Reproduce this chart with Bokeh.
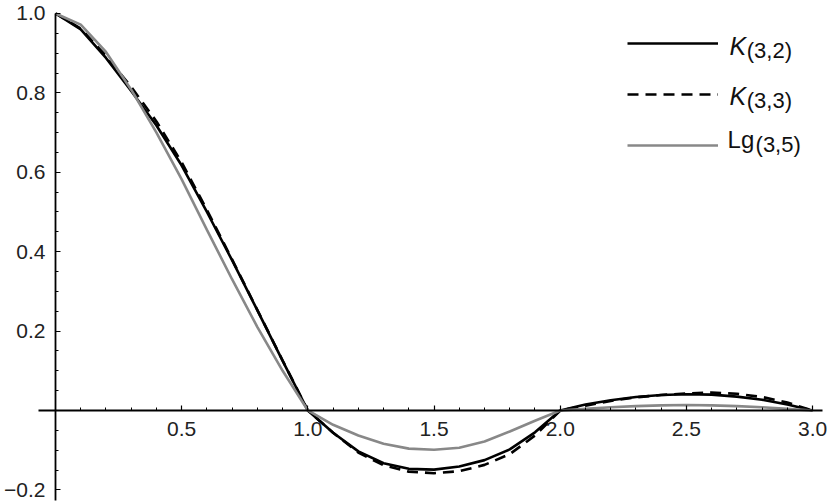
from bokeh.plotting import figure
from bokeh.models import FixedTicker, Range1d, Legend, LegendItem, Label
from bokeh.embed import file_html
from bokeh.resources import INLINE

# ---- data ----
x_vals = [0.0, 0.1, 0.2, 0.3, 0.4, 0.5, 0.6, 0.7, 0.8, 0.9,
          1.0, 1.1, 1.2, 1.3, 1.4, 1.5, 1.6, 1.7, 1.8, 1.9,
          2.0, 2.1, 2.2, 2.3, 2.4, 2.5, 2.6, 2.7, 2.8, 2.9, 3.0]

k32 = [1.000, 0.960, 0.888, 0.805, 0.718, 0.617, 0.500, 0.378, 0.252, 0.125,
       0.000, -0.056, -0.103, -0.133, -0.147, -0.149, -0.141, -0.125, -0.098, -0.055,
       0.000, 0.015, 0.026, 0.034, 0.039, 0.041, 0.040, 0.035, 0.027, 0.015, 0.000]

k33 = [1.000, 0.962, 0.893, 0.815, 0.728, 0.625, 0.505, 0.380, 0.253, 0.126,
       0.000, -0.056, -0.106, -0.138, -0.154, -0.158, -0.153, -0.137, -0.110, -0.063,
       0.000, 0.012, 0.024, 0.033, 0.039, 0.043, 0.045, 0.042, 0.034, 0.020, 0.000]

lg35 = [1.000, 0.972, 0.903, 0.808, 0.700, 0.582, 0.455, 0.330, 0.210, 0.100,
        0.000, -0.036, -0.063, -0.084, -0.096, -0.099, -0.094, -0.078, -0.053, -0.026,
        0.000, 0.004, 0.008, 0.011, 0.013, 0.014, 0.013, 0.011, 0.008, 0.004, 0.000]

x_ticks = [0.5, 1.0, 1.5, 2.0, 2.5, 3.0]
x_tick_labels = ["0.5", "1.0", "1.5", "2.0", "2.5", "3.0"]
x_minor = [0.1, 0.2, 0.3, 0.4, 0.6, 0.7, 0.8, 0.9, 1.1, 1.2, 1.3, 1.4,
           1.6, 1.7, 1.8, 1.9, 2.1, 2.2, 2.3, 2.4, 2.6, 2.7, 2.8, 2.9]

y_ticks = [-0.2, 0.2, 0.4, 0.6, 0.8, 1.0]
y_tick_labels = ["\u22120.2", "0.2", "0.4", "0.6", "0.8", "1.0"]
y_minor = [-0.15, -0.1, -0.05, 0.05, 0.1, 0.15, 0.25, 0.3, 0.35, 0.45, 0.5, 0.55,
           0.65, 0.7, 0.75, 0.85, 0.9, 0.95]

series_names = ["K", "K", "Lg"]
series_subs = ["(3,2)", "(3,3)", "(3,5)"]

# ---- figure ----
FONT = "Liberation Sans"
p = figure(width=830, height=504, output_backend="svg", toolbar_location=None,
           x_range=Range1d(-0.218, 3.071), y_range=Range1d(-0.2368, 1.0327),
           min_border_left=0, min_border_right=0, min_border_top=0, min_border_bottom=0)
p.xgrid.visible = False
p.ygrid.visible = False
p.outline_line_color = None

r1 = p.line(x_vals, k32, line_color="black", line_width=2.6)
r2 = p.line(x_vals, k33, line_color="black", line_width=2.6, line_dash="11 7")
r3 = p.line(x_vals, lg35, line_color="#888888", line_width=2.6)

for ax in (p.xaxis[0], p.yaxis[0]):
    ax.fixed_location = 0
    ax.axis_line_color = "black"
    ax.axis_line_width = 1.8
    ax.major_tick_in = 5
    ax.major_tick_out = 0
    ax.minor_tick_in = 3
    ax.minor_tick_out = 0
    ax.major_tick_line_color = "black"
    ax.minor_tick_line_color = "black"
    ax.major_tick_line_width = 1.2
    ax.minor_tick_line_width = 1
    ax.major_label_text_font = FONT
    ax.major_label_text_font_size = "21px"
    ax.major_label_text_color = "#222222"

p.xaxis[0].bounds = (-0.067, 3.04)
p.xaxis[0].ticker = FixedTicker(ticks=x_ticks, minor_ticks=x_minor)
p.xaxis[0].major_label_overrides = dict(zip(x_ticks, x_tick_labels))
p.xaxis[0].major_label_standoff = 12
p.yaxis[0].bounds = (-0.227, 1.0)
p.yaxis[0].ticker = FixedTicker(ticks=y_ticks, minor_ticks=y_minor)
p.yaxis[0].major_label_overrides = dict(zip(y_ticks, y_tick_labels))
p.yaxis[0].major_label_standoff = 10

# ---- legend (samples via Legend, texts via Labels) ----
legend = Legend(items=[LegendItem(label=" ", renderers=[r]) for r in (r1, r2, r3)],
                location=(627, 349), glyph_width=91, glyph_height=20, label_height=20,
                spacing=31, padding=0, margin=0, border_line_color=None,
                background_fill_alpha=0, label_text_font_size="1px", label_standoff=0)
p.add_layout(legend)

leg_x = [2.671, 2.671, 2.663]
leg_sub_x = [2.739, 2.739, 2.774]
leg_y = [0.919, 0.793, 0.682]
leg_size = ["25px", "25px", "24px"]
for i in range(3):
    p.add_layout(Label(x=leg_x[i], y=leg_y[i], text=series_names[i], text_font=FONT,
                       text_font_size=leg_size[i],
                       text_font_style="italic" if series_names[i] == "K" else "normal",
                       text_color="#111111", text_baseline="alphabetic", text_align="left"))
    p.add_layout(Label(x=leg_sub_x[i], y=leg_y[i] - 0.011, text=series_subs[i], text_font=FONT,
                       text_font_size="22px", text_color="#111111",
                       text_baseline="alphabetic", text_align="left"))

open("out.html", "w").write(file_html(p, INLINE))
